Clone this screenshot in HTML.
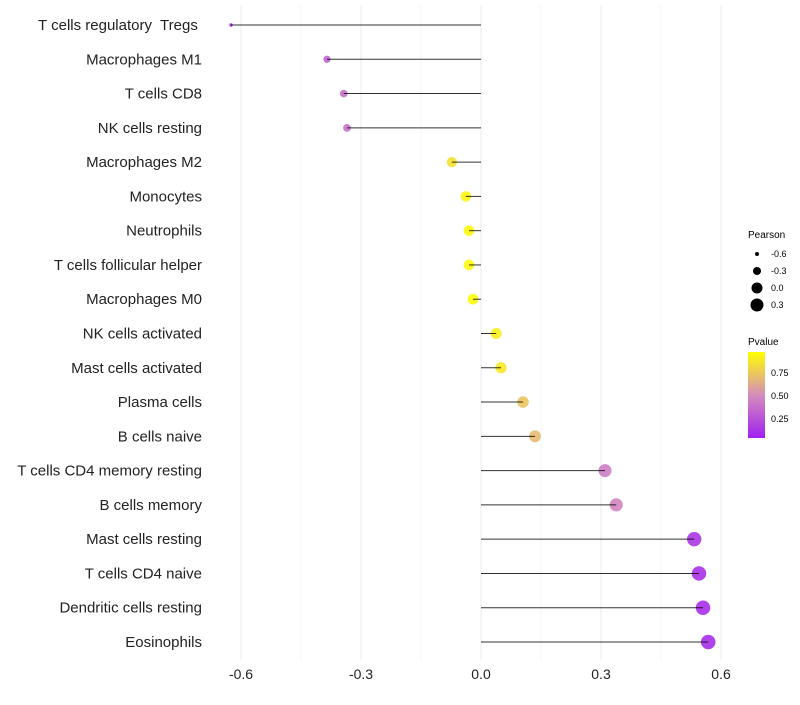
<!DOCTYPE html>
<html><head><meta charset="utf-8"><style>
body{margin:0;background:#fff;font-family:"Liberation Sans",sans-serif}
</style></head><body>
<svg id="chart" width="800" height="700" xmlns="http://www.w3.org/2000/svg">
<defs><linearGradient id="pg" x1="0" y1="1" x2="0" y2="0">
<stop offset="0" stop-color="#a020f0"/><stop offset="0.5" stop-color="#d58dbb"/><stop offset="1" stop-color="#ffff00"/>
</linearGradient></defs>
<g id="grid"></g><g id="dots"></g><g id="marks"></g><g id="labels"></g>
<g font-size="9" fill="#000">
<text x="748" y="238" font-size="10">Pearson</text>
<circle cx="757" cy="254" r="2"/><text x="771" y="257">-0.6</text>
<circle cx="757" cy="271" r="4"/><text x="771" y="274">-0.3</text>
<circle cx="757" cy="288" r="5.5"/><text x="771" y="291">0.0</text>
<circle cx="757" cy="305" r="6.5"/><text x="771" y="308">0.3</text>
<text x="748" y="345" font-size="10">Pvalue</text>
<rect x="748" y="352" width="17" height="86" fill="url(#pg)"/>
<text x="771" y="376">0.75</text><text x="771" y="399">0.50</text><text x="771" y="422">0.25</text>
</g>
</svg>
<script>
const categories=["T cells regulatory  Tregs ","Macrophages M1","T cells CD8","NK cells resting","Macrophages M2","Monocytes","Neutrophils","T cells follicular helper","Macrophages M0","NK cells activated","Mast cells activated","Plasma cells","B cells naive","T cells CD4 memory resting","B cells memory","Mast cells resting","T cells CD4 naive","Dendritic cells resting","Eosinophils"];
const pearson=[-0.625,-0.385,-0.343,-0.335,-0.073,-0.038,-0.03,-0.03,-0.02,0.038,0.05,0.105,0.135,0.31,0.338,0.533,0.545,0.555,0.568];
const pvalues=[0.03,0.3,0.36,0.38,0.87,0.95,0.97,0.97,0.98,0.92,0.9,0.74,0.7,0.42,0.46,0.1,0.08,0.07,0.06];
const xTicks=[-0.6,-0.3,0,0.3,0.6];
const xTickLabels=["-0.6","-0.3","0.0","0.3","0.6"];
const NS="http://www.w3.org/2000/svg";
const x=v=>481+v*400;
const y=i=>25+i*(617/18);
const rr=v=>Math.sqrt(Math.max(3,4+(v+0.6)*42));
function lerp(a,b,t){return a.map((c,k)=>Math.round(c+(b[k]-c)*t));}
function col(p){const lo=[160,32,240],mid=[213,141,187],hi=[255,255,0];const c=p<0.5?lerp(lo,mid,p/0.5):lerp(mid,hi,(p-0.5)/0.5);return `rgb(${c})`;}
function mk(t,a,parent){const e=document.createElementNS(NS,t);for(const k in a)e.setAttribute(k,a[k]);parent.appendChild(e);return e;}
const grid=document.getElementById('grid'),marks=document.getElementById('marks'),dots=document.getElementById('dots'),labels=document.getElementById('labels');
for(let v=-0.6;v<=0.601;v+=0.15){const g=mk('line',{x1:x(v),x2:x(v),y1:5,y2:660,stroke:Math.abs(Math.round(v/0.15))%2===0?'#ebebeb':'#f4f4f4','stroke-width':1},grid);

}
xTicks.forEach((v,i)=>{const t=mk('text',{x:x(v),y:679,'text-anchor':'middle','font-size':14,fill:'#222'},labels);t.textContent=xTickLabels[i];

});
categories.forEach((c,i)=>{
const t=mk('text',{x:202,y:y(i)+5,'text-anchor':'end','font-size':15,fill:'#222','xml:space':'preserve'},labels);t.style.whiteSpace='pre';t.textContent=c;


const d=mk('circle',{cx:x(pearson[i]),cy:y(i),r:rr(pearson[i]),fill:col(pvalues[i]),'fill-opacity':0.9},dots);


const ln=mk('line',{x1:x(0),x2:x(pearson[i]),y1:y(i),y2:y(i),stroke:'#000','stroke-width':1,'stroke-opacity':0.8},marks);


});
</script>
</body></html>
